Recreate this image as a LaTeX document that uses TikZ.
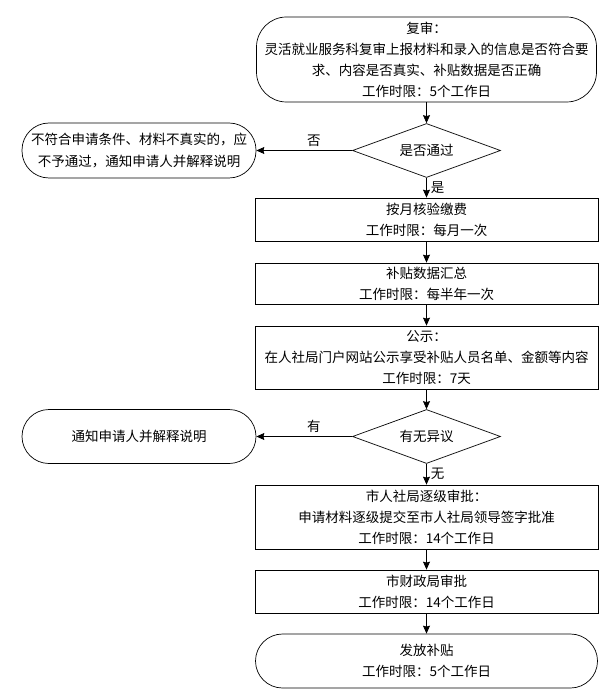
\documentclass[tikz,border=0pt]{standalone}
\usepackage{fontspec}
\newfontfamily\cjk{Noto Sans CJK SC}
\usetikzlibrary{shapes.geometric, arrows.meta, positioning}

\tikzset{
  box/.style = {draw, rectangle, align=center, inner sep=0pt, minimum width=343pt},
  term/.style = {draw, rectangle, rounded corners=#1, align=center, inner sep=0pt},
  test/.style = {draw, diamond, aspect=2, inner sep=0pt, minimum width=148pt, minimum height=54pt},
}

\begin{document}
\begin{tikzpicture} [on grid, auto, line width=0.7pt,
  every node/.style = {font=\cjk\fontsize{13.5}{21}\selectfont}]

\useasboundingbox (0,0) rectangle (613pt,-700pt);

\node (review) [term=30pt, minimum width=340pt, minimum height=85pt] at (426.5pt,-59.5pt)
  {复审：\\灵活就业服务科复审上报材料和录入的信息是否符合要\\求、内容是否真实、补贴数据是否正确\\工作时限：5个工作日};

\node (pass) [test, below = 91pt of review] {是否通过};
\node (reject) [term=27pt, minimum width=234pt, minimum height=55pt, left = 287.5pt of pass]
  {不符合申请条件、材料不真实的，应\\不予通过，通知申请人并解释说明};

\node (check) [box, minimum height=43pt, below = 69pt of pass] {按月核验缴费\\工作时限：每月一次};
\node (total) [box, minimum height=41pt, below = 64pt of check] {补贴数据汇总\\工作时限：每半年一次};
\node (notice) [box, minimum height=63pt, below = 74pt of total]
  {公示：\\在人社局门户网站公示享受补贴人员名单、金额等内容\\工作时限：7天};

\node (doubt) [test, below = 79pt of notice] {有无异议};
\node (inform) [term=27pt, minimum width=234pt, minimum height=54pt, left = 287.5pt of doubt]
  {通知申请人并解释说明};

\node (city) [box, minimum height=64pt, below = 80.5pt of doubt]
  {市人社局逐级审批：\\申请材料逐级提交至市人社局领导签字批准\\工作时限：14个工作日};
\node (finance) [box, minimum height=43pt, below = 74.5pt of city] {市财政局审批\\工作时限：14个工作日};
\node (pay) [term=27pt, minimum width=342pt, minimum height=54pt, below = 69.5pt of finance]
  {发放补贴\\工作时限：5个工作日};

\path [-{Stealth[length=8pt, width=7pt, inset=1pt]}]
  (review) edge (pass);
\path [-{Stealth[length=8pt, width=7pt, inset=1pt]}]
  (pass) edge node [swap, pos=0.4, inner sep=4pt] {否} (reject);
\path [-{Stealth[length=8pt, width=7pt, inset=1pt]}]
  (pass) edge node [inner sep=4pt] {是} (check);
\path [-{Stealth[length=8pt, width=7pt, inset=1pt]}]
  (check) edge (total);
\path [-{Stealth[length=8pt, width=7pt, inset=1pt]}]
  (total) edge (notice);
\path [-{Stealth[length=8pt, width=7pt, inset=1pt]}]
  (notice) edge (doubt);

% 有无异议
\path [-{Stealth[length=8pt, width=7pt, inset=1pt]}]
  (doubt) edge node [swap, pos=0.4, inner sep=4pt] {有} (inform);
\path [-{Stealth[length=8pt, width=7pt, inset=1pt]}]
  (doubt) edge node [inner sep=4pt] {无} (city);
\path [-{Stealth[length=8pt, width=7pt, inset=1pt]}]
  (city) edge (finance);
\path [-{Stealth[length=8pt, width=7pt, inset=1pt]}]
  (finance) edge (pay);

\end{tikzpicture}
\end{document}
